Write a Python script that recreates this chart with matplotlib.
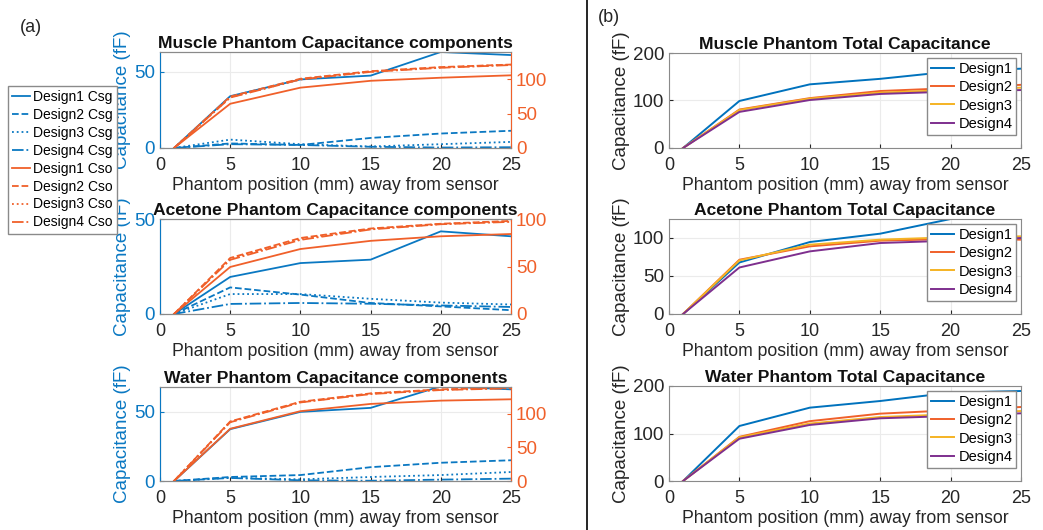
import numpy as np
from matplotlib import pyplot as plt

plt.rcParams['font.family'] = ['Liberation Sans', 'DejaVu Sans']

# phantom positions (mm)
POS = [1, 5, 10, 15, 20, 25]

# components: Csg (left axis) and Cso (right axis), designs 1..4
muscle_csg = [[0, 34, 45, 47.5, 63, 61],
              [0, 3, 2, 6.6, 9.5, 11.3],
              [0, 5.5, 2.5, 1, 2.5, 4],
              [0, 2.5, 2, 0.8, 0.3, 0.5]]
muscle_cso = [[0, 64.5, 88, 98, 102.5, 106],
              [0, 75, 101, 112, 118, 121.7],
              [0, 74, 100, 111.5, 117.5, 121.5],
              [0, 73.5, 100, 111, 117, 121]]
acetone_csg = [[0, 19.5, 26.8, 28.6, 43.5, 40.9],
               [0, 14, 10.2, 5.8, 4, 2],
               [0, 10.5, 10.5, 8, 6, 5],
               [0, 5.3, 5.8, 5.4, 4.5, 3.7]]
acetone_cso = [[0, 49.5, 68.4, 77, 81.8, 84.2],
               [0, 59, 80, 90, 95, 98],
               [0, 58, 79, 89.5, 94.7, 97.5],
               [0, 57, 78, 89, 94.5, 97]]
water_csg = [[0, 37.5, 50, 52.9, 68.5, 66.3],
             [0, 2.9, 4.3, 10, 13.2, 15],
             [0, 2.4, 1.2, 2.9, 4.3, 6.5],
             [0, 2.2, 0.5, 0.2, 1, 1.7]]
water_cso = [[0, 77.8, 104, 114.8, 119.7, 121.7],
             [0, 88.7, 118, 130.5, 136.5, 139],
             [0, 88, 117.5, 130, 136, 138.5],
             [0, 87.5, 117, 129.5, 135.5, 138]]

# total capacitance, designs 1..4
muscle_tot = [[0, 99, 134, 145.6, 161, 167],
              [0, 81, 105, 120, 126, 133],
              [0, 80, 104, 116.6, 122, 127],
              [0, 76, 101, 113.8, 118.7, 122]]
acetone_tot = [[0, 67.8, 94.7, 105.7, 125, 125],
               [0, 71.4, 89, 96.5, 98.7, 97.8],
               [0, 70.5, 91.2, 97.8, 101, 102.2],
               [0, 61.2, 82.4, 93.4, 96.5, 100]]
water_tot = [[0, 115.8, 154.4, 168.4, 186, 189.5],
             [0, 93, 126, 141.8, 148.8, 155.8],
             [0, 92, 121, 134.7, 140.4, 147.4],
             [0, 89, 118, 132, 136.8, 142.5]]

DESIGNS = ['Design1', 'Design2', 'Design3', 'Design4']
STYLES = ['-', '--', ':', '-.']
BLUE = '#0A78C2'
ORANGE = '#F0602A'
TOT_COLORS = ['#0072BD', '#F0602A', '#F5B324', '#7E2F8E']
TXT = '#262626'
XLAB = 'Phantom position (mm) away from sensor'

W, H = 1043, 530
fig = plt.figure(figsize=(W / 100, H / 100), dpi=100)


def box(x0, x1, y0, y1):
    return [x0 / W, 1 - y1 / H, (x1 - x0) / W, (y1 - y0) / H]


def style_ax(ax):
    ax.set_xlim(0, 25)
    ax.set_xticks([0, 5, 10, 15, 20, 25])
    ax.grid(True, color='#ebebeb', lw=0.8)
    ax.set_axisbelow(True)
    ax.tick_params(direction='in', labelsize=13, colors=TXT, length=3)
    ax.tick_params(axis='x', pad=6.5)
    for s in ax.spines.values():
        s.set_color('#8a8a8a')
        s.set_linewidth(0.8)
    ax.set_xlabel(XLAB, fontsize=12.7, color=TXT, labelpad=2)


left_rows = [("Muscle Phantom Capacitance components", muscle_csg, muscle_cso, 63, 140, (52, 148)),
             ("Acetone Phantom Capacitance components", acetone_csg, acetone_cso, 50, 100, (219, 314)),
             ("Water Phantom Capacitance components", water_csg, water_cso, 68, 140, (387, 481))]

handles = []
for title, csg, cso, ltop, rtop, (y0, y1) in left_rows:
    ax = fig.add_axes(box(160, 511, y0, y1))
    ax2 = ax.twinx()
    hs1 = []
    hs2 = []
    for i in range(4):
        h, = ax.plot(POS, csg[i], color=BLUE, ls=STYLES[i], lw=1.3,
                     label=DESIGNS[i] + ' Csg')
        hs1.append(h)
        h, = ax2.plot(POS, cso[i], color=ORANGE, ls=STYLES[i], lw=1.3,
                      label=DESIGNS[i] + ' Cso')
        hs2.append(h)
    if not handles:
        handles = hs1 + hs2
    style_ax(ax)
    ax.set_ylim(0, ltop)
    ax.set_yticks([0, 50])
    ax.tick_params(axis='y', colors=BLUE, labelcolor=BLUE, labelsize=13.5)
    ax2.set_ylim(0, rtop)
    ax2.set_yticks([0, 50, 100])
    ax2.tick_params(axis='y', direction='in', colors=ORANGE, labelcolor=ORANGE,
                    labelsize=13.5, length=3)
    for s in ax2.spines.values():
        s.set_color('#8a8a8a')
        s.set_linewidth(0.8)
    ax2.spines['left'].set_color(BLUE)
    ax2.spines['right'].set_color(ORANGE)
    ax.set_ylabel('Capacitance (fF)', color=BLUE, fontsize=13.5, labelpad=2)
    ax.set_title(title, fontsize=12.6, fontweight='bold', color='#111111', pad=3)

fig.legend(handles, [h.get_label() for h in handles], loc='upper left',
           bbox_to_anchor=(8 / W, 1 - 86 / H), borderaxespad=0, fontsize=10,
           fancybox=False, edgecolor='#8a8a8a', framealpha=1, handlelength=1.3,
           handletextpad=0.2, labelspacing=0.28, borderpad=0.3)

right_rows = [("Muscle Phantom Total Capacitance", muscle_tot, 200, [0, 100, 200], (53, 148)),
              ("Acetone Phantom Total Capacitance", acetone_tot, 125, [0, 50, 100], (219, 314)),
              ("Water Phantom Total Capacitance", water_tot, 200, [0, 100, 200], (386, 481))]

for title, tot, top, yt, (y0, y1) in right_rows:
    ax = fig.add_axes(box(669, 1021, y0, y1))
    for i in range(4):
        ax.plot(POS, tot[i], color=TOT_COLORS[i], lw=1.4, label=DESIGNS[i])
    style_ax(ax)
    ax.set_ylim(0, top)
    ax.set_yticks(yt)
    ax.tick_params(axis='y', labelsize=13.5)
    ax.set_ylabel('Capacitance (fF)', color=TXT, fontsize=13.5, labelpad=2)
    ax.set_title(title, fontsize=12.6, fontweight='bold', color='#111111', pad=3)
    ax.legend(loc='upper right', fontsize=10.5, fancybox=False,
              edgecolor='#8a8a8a', framealpha=1, handlelength=1.6,
              handletextpad=0.3, labelspacing=0.3, borderpad=0.25,
              borderaxespad=0.35)

fig.text(20 / W, 1 - 28 / H, '(a)', fontsize=13, color=TXT, va='center')
fig.text(598 / W, 1 - 18 / H, '(b)', fontsize=13, color=TXT, va='center')
fig.add_artist(plt.Line2D([587 / W, 587 / W], [0, 1], color='black', lw=1.2))

fig.savefig('out.png', dpi=100)
plt.close(fig)
